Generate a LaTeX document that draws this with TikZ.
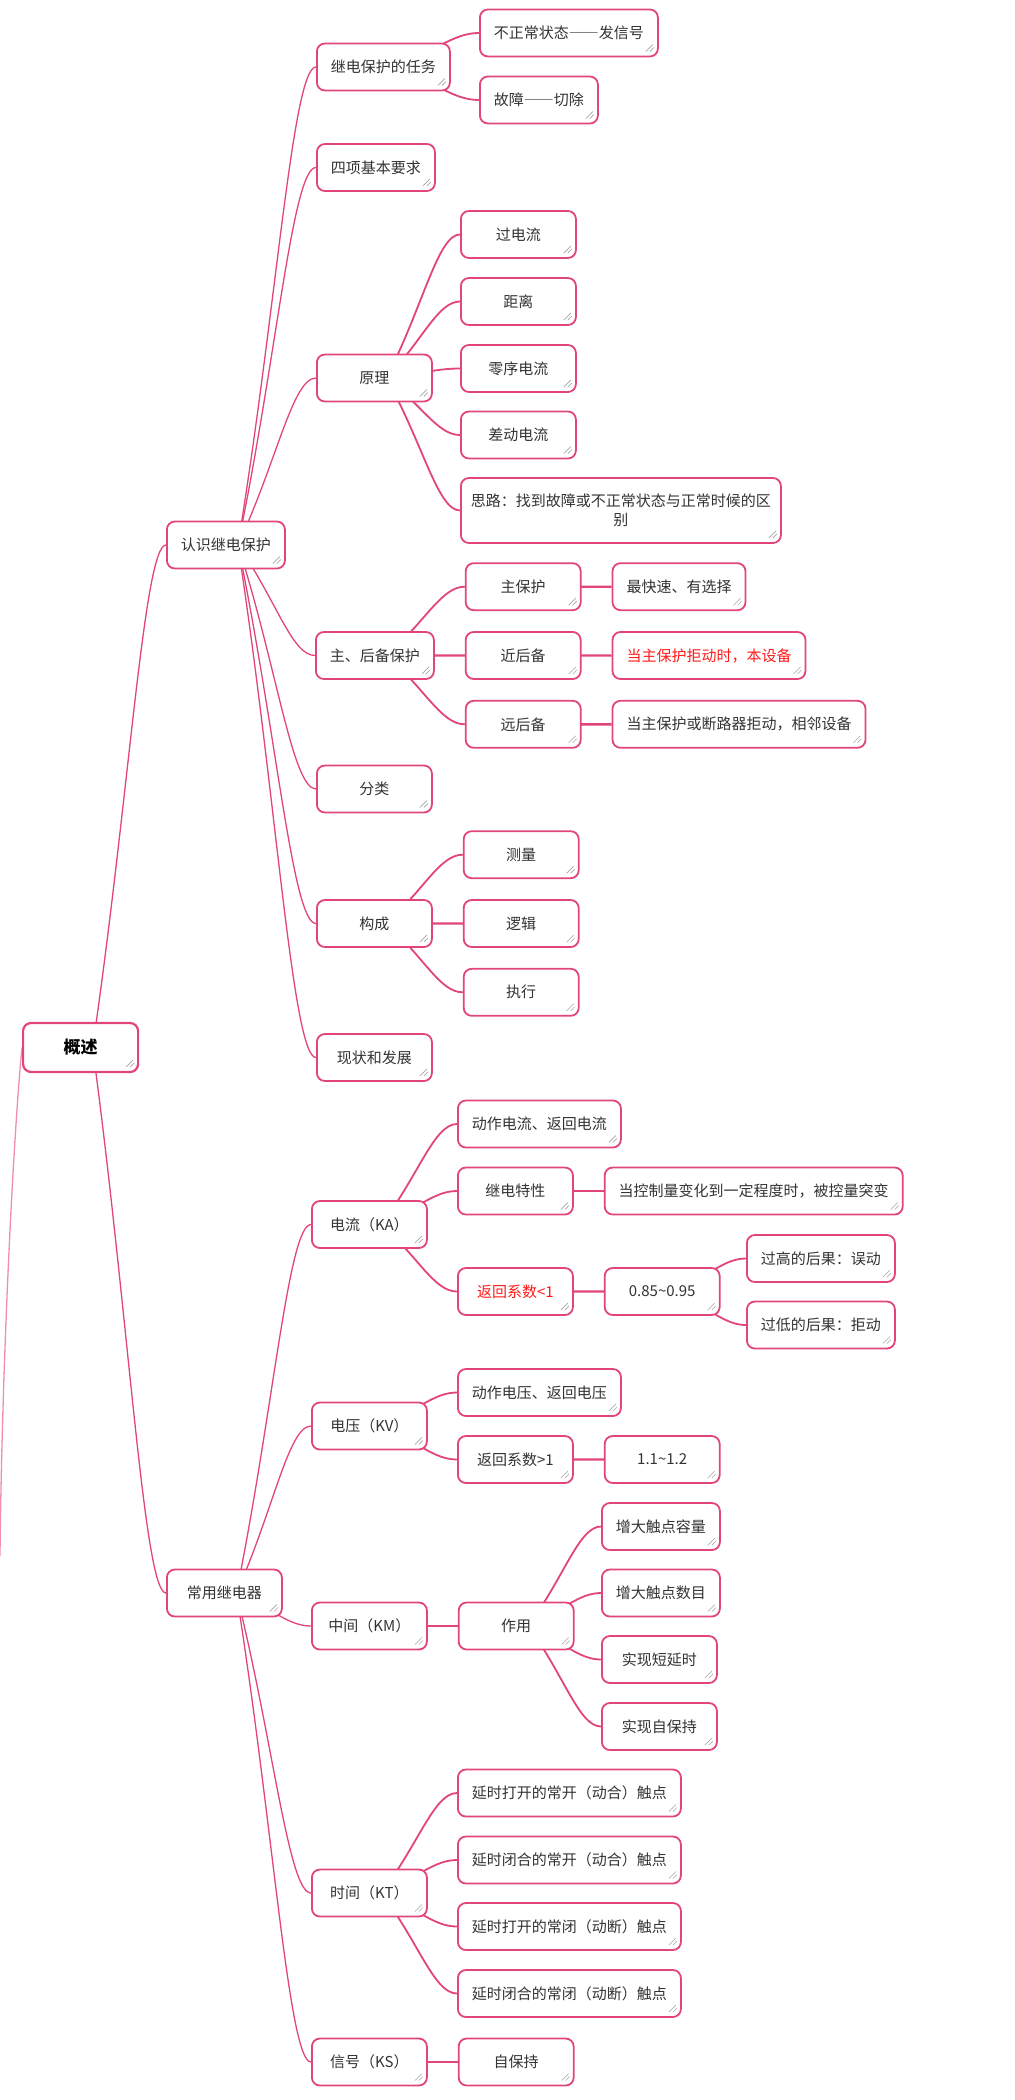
\documentclass[tikz,border=0pt]{standalone}
\usepackage{fontspec}
\setmainfont{Noto Sans CJK SC}
\usepackage{xcolor}
\usetikzlibrary{positioning,calc,backgrounds}

\definecolor{mmpink}{HTML}{E2457A}
\definecolor{mmtext}{HTML}{333333}
\definecolor{mmred}{HTML}{FF1A1A}

% curved branch: parent center -> child west
\newcommand{\mmlink}[3]{%
  \path ($(#2.center)+(12,0)$) coordinate (ls);
  \draw[#1] (ls) .. controls ($(ls)!0.5!(#3.west)$) and ($(#3.west)!0.3!(ls|-#3.west)$) .. (#3.west);
}
% full-width dashes
\newcommand{\fwdash}{{\addfontfeature{RawFeature=+fwid}——}}

\begin{document}
\begin{tikzpicture}[
    x=1pt, y=-1pt,
    topic/.style={rectangle, rounded corners=8pt, draw=mmpink, line width=1.8pt, fill=white,
        text=mmtext, font=\fontsize{15}{19}\selectfont, minimum width=115pt, minimum height=47pt,
        inner xsep=14pt, anchor=west,
        path picture={\draw[gray!70, line width=0.6pt]
            ([shift={(-12,-5)}]path picture bounding box.south east) -- ++(7,-7)
            ([shift={(-8,-5)}]path picture bounding box.south east) -- ++(4,-4);}},
    root/.style={topic, line width=2.2pt, text=black, font=\fontsize{17}{20}\selectfont\bfseries, minimum height=49pt},
    hot/.style={text=mmred},
    trunk/.style={draw=mmpink, line width=1.3pt},
    link/.style={draw=mmpink, line width=1.8pt},
    bar/.style={draw=mmpink, line width=2.4pt}
]
    \useasboundingbox (0,0) rectangle (1014,2100);

    % Root and main topics
    \node[root] (root) at (22,1047.5) {概述};
    \node[topic] (A) at (166,545) {认识继电保护};
    \node[topic] (B) at (166,1593) {常用继电器};
    \coordinate (lost) at (0,1556);

    % 认识继电保护
    \node[topic] (a1) at (316,67) {继电保护的任务};
    \node[topic] (a2) at (316,167.5) {四项基本要求};
    \node[topic] (a3) at (316,378) {原理};
    \node[topic] (a4) at (315,655.5) {主、后备保护};
    \node[topic] (a5) at (316,789) {分类};
    \node[topic] (a6) at (316,923.5) {构成};
    \node[topic] (a7) at (316,1057.5) {现状和发展};

    \node[topic] (a1a) at (479,33) {不正常状态\fwdash 发信号};
    \node[topic] (a1b) at (479,100) {故障\fwdash 切除};

    \node[topic] (a3a) at (460,234.5) {过电流};
    \node[topic] (a3b) at (460,301.5) {距离};
    \node[topic] (a3c) at (460,368.5) {零序电流};
    \node[topic] (a3d) at (460,435) {差动电流};
    \node[topic, minimum height=65pt, inner xsep=10pt, align=center] (a3e) at (460,510.5)
        {思路：找到故障或不正常状态与正常时候的区\\别};

    \node[topic, right=30pt of a4] (a4b) {近后备};
    \node[topic, above=20pt of a4b] (a4a) {主保护};
    \node[topic, below=20pt of a4b] (a4c) {远后备};
    \node[topic, right=30pt of a4a] (a4a2) {最快速、有选择};
    \node[topic, hot, right=30pt of a4b] (a4b2) {当主保护拒动时，本设备};
    \node[topic, right=30pt of a4c] (a4c2) {当主保护或断路器拒动，相邻设备};

    \node[topic, right=30pt of a6] (a6b) {逻辑};
    \node[topic, above=20pt of a6b] (a6a) {测量};
    \node[topic, below=20pt of a6b] (a6c) {执行};

    % 常用继电器
    \node[topic] (b1) at (311,1224.5) {电流（KA）};
    \node[topic] (b2) at (311,1426) {电压（KV）};
    \node[topic] (b3) at (311,1626) {中间（KM）};
    \node[topic] (b4) at (311,1893) {时间（KT）};
    \node[topic] (b5) at (311,2062) {信号（KS）};

    \node[topic] (b1a) at (457,1124) {动作电流、返回电流};
    \node[topic] (b1b) at (457,1191) {继电特性};
    \node[topic, hot] (b1c) at (457,1291.5) {返回系数<1};
    \node[topic, right=30pt of b1b] (b1b2) {当控制量变化到一定程度时，被控量突变};
    \node[topic, right=30pt of b1c] (b1c2) {0.85\textasciitilde0.95};
    \node[topic] (b1c3) at (746,1258.5) {过高的后果：误动};
    \node[topic] (b1c4) at (746,1325) {过低的后果：拒动};

    \node[topic] (b2a) at (457,1392.5) {动作电压、返回电压};
    \node[topic] (b2b) at (457,1459.5) {返回系数>1};
    \node[topic, right=30pt of b2b] (b2b2) {1.1\textasciitilde1.2};

    \node[topic, right=30pt of b3] (b3a) {作用};
    \node[topic] (b3a1) at (601,1526.5) {增大触点容量};
    \node[topic] (b3a2) at (601,1593) {增大触点数目};
    \node[topic] (b3a3) at (601,1659.5) {实现短延时};
    \node[topic] (b3a4) at (601,1726.5) {实现自保持};

    \node[topic] (b4a) at (457,1793) {延时打开的常开（动合）触点};
    \node[topic] (b4b) at (457,1860) {延时闭合的常开（动合）触点};
    \node[topic] (b4c) at (457,1926.5) {延时打开的常闭（动断）触点};
    \node[topic] (b4d) at (457,1993.5) {延时闭合的常闭（动断）触点};

    \node[topic, right=30pt of b5] (b5a) {自保持};

    % Branches
    \begin{scope}[on background layer]
        \draw[trunk, mmpink!60] (root.west) .. controls +(-8,80) and +(2,-200) .. (lost);
        \foreach \p/\c in {root/A, root/B, A/a1, A/a2, A/a3, A/a4, A/a5, A/a6, A/a7,
                B/b1, B/b2, B/b3, B/b4, B/b5}
            {\mmlink{trunk}{\p}{\c}}
        \foreach \p/\c in {a1/a1a, a1/a1b, a3/a3a, a3/a3b, a3/a3c, a3/a3d, a3/a3e,
                a4/a4a, a4/a4c, a6/a6a, a6/a6c, b1/b1a, b1/b1b, b1/b1c,
                b1c2/b1c3, b1c2/b1c4, b2/b2a, b2/b2b, b3a/b3a1, b3a/b3a2, b3a/b3a3, b3a/b3a4,
                b4/b4a, b4/b4b, b4/b4c, b4/b4d}
            {\mmlink{link}{\p}{\c}}
        \foreach \p/\c in {a4/a4b, a4a/a4a2, a4b/a4b2, a4c/a4c2, a6/a6b,
                b1b/b1b2, b1c/b1c2, b2b/b2b2, b3/b3a, b5/b5a}
            {\mmlink{bar}{\p}{\c}}
    \end{scope}
\end{tikzpicture}
\end{document}
